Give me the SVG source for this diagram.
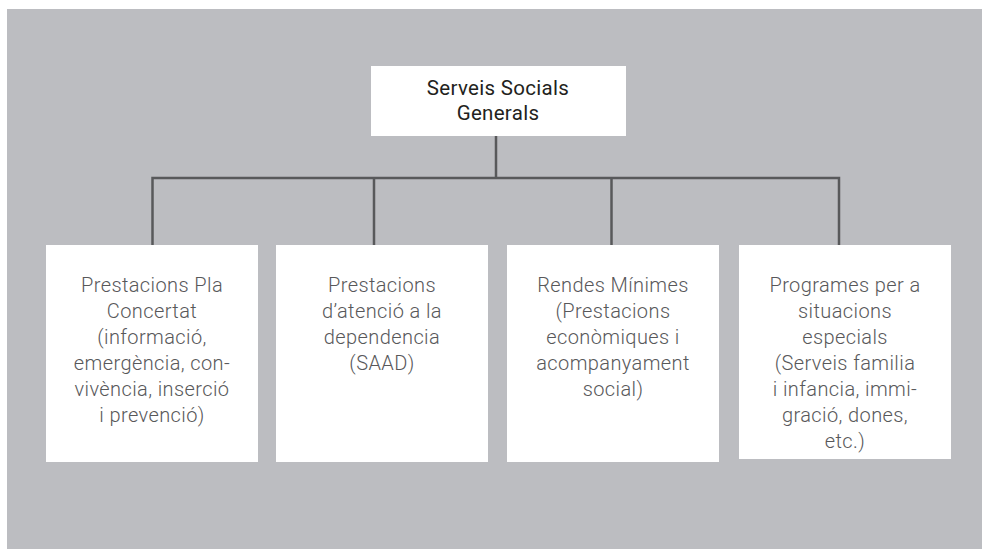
<svg xmlns="http://www.w3.org/2000/svg" width="982" height="549" viewBox="0 0 982 549">
<style>
.box{fill:#ffffff}
.conn{stroke:#58595b;stroke-width:2.5;fill:none}
.t{font-family:Roboto,"Liberation Sans",sans-serif;font-size:20px;font-weight:300;fill:#58585a;text-anchor:middle;letter-spacing:0.4px}
.th{font-family:Roboto,"Liberation Sans",sans-serif;font-size:20.5px;font-weight:400;fill:#231f20;text-anchor:middle;letter-spacing:0.3px}
</style>
<rect x="7" y="9" width="975" height="540" fill="#bcbdc1"/>
<g id="connectors">
<path class="conn" d="M496 136V178M152.5 245V178H839V245M374 178V245M611.5 178V245"/>
</g>
<g id="root">
<rect class="box" x="371" y="66" width="255" height="70"/>
<text class="th" x="498" y="95">Serveis Socials</text>
<text class="th" x="498" y="120">Generals</text>
</g>
<g id="n1">
<rect class="box" x="46" y="245" width="212" height="217"/>
<text class="t" x="152" y="292">Prestacions Pla</text>
<text class="t" x="152" y="318">Concertat</text>
<text class="t" x="152" y="344">(informació,</text>
<text class="t" x="152" y="370">emergència, con-</text>
<text class="t" x="152" y="396">vivència, inserció</text>
<text class="t" x="152" y="422">i prevenció)</text>
</g>
<g id="n2">
<rect class="box" x="276" y="245" width="212" height="217"/>
<text class="t" x="382" y="292">Prestacions</text>
<text class="t" x="382" y="318">d’atenció a la</text>
<text class="t" x="382" y="344">dependencia</text>
<text class="t" x="382" y="370">(SAAD)</text>
</g>
<g id="n3">
<rect class="box" x="507" y="245" width="212" height="217"/>
<text class="t" x="613" y="292">Rendes Mínimes</text>
<text class="t" x="613" y="318">(Prestacions</text>
<text class="t" x="613" y="344">econòmiques i</text>
<text class="t" x="613" y="370">acompanyament</text>
<text class="t" x="613" y="396">social)</text>
</g>
<g id="n4">
<rect class="box" x="739" y="245" width="212" height="214"/>
<text class="t" x="845" y="292">Programes per a</text>
<text class="t" x="845" y="318">situacions</text>
<text class="t" x="845" y="344">especials</text>
<text class="t" x="845" y="370">(Serveis familia</text>
<text class="t" x="845" y="396">i infancia, immi-</text>
<text class="t" x="845" y="422">gració, dones,</text>
<text class="t" x="845" y="448">etc.)</text>
</g>
</svg>
